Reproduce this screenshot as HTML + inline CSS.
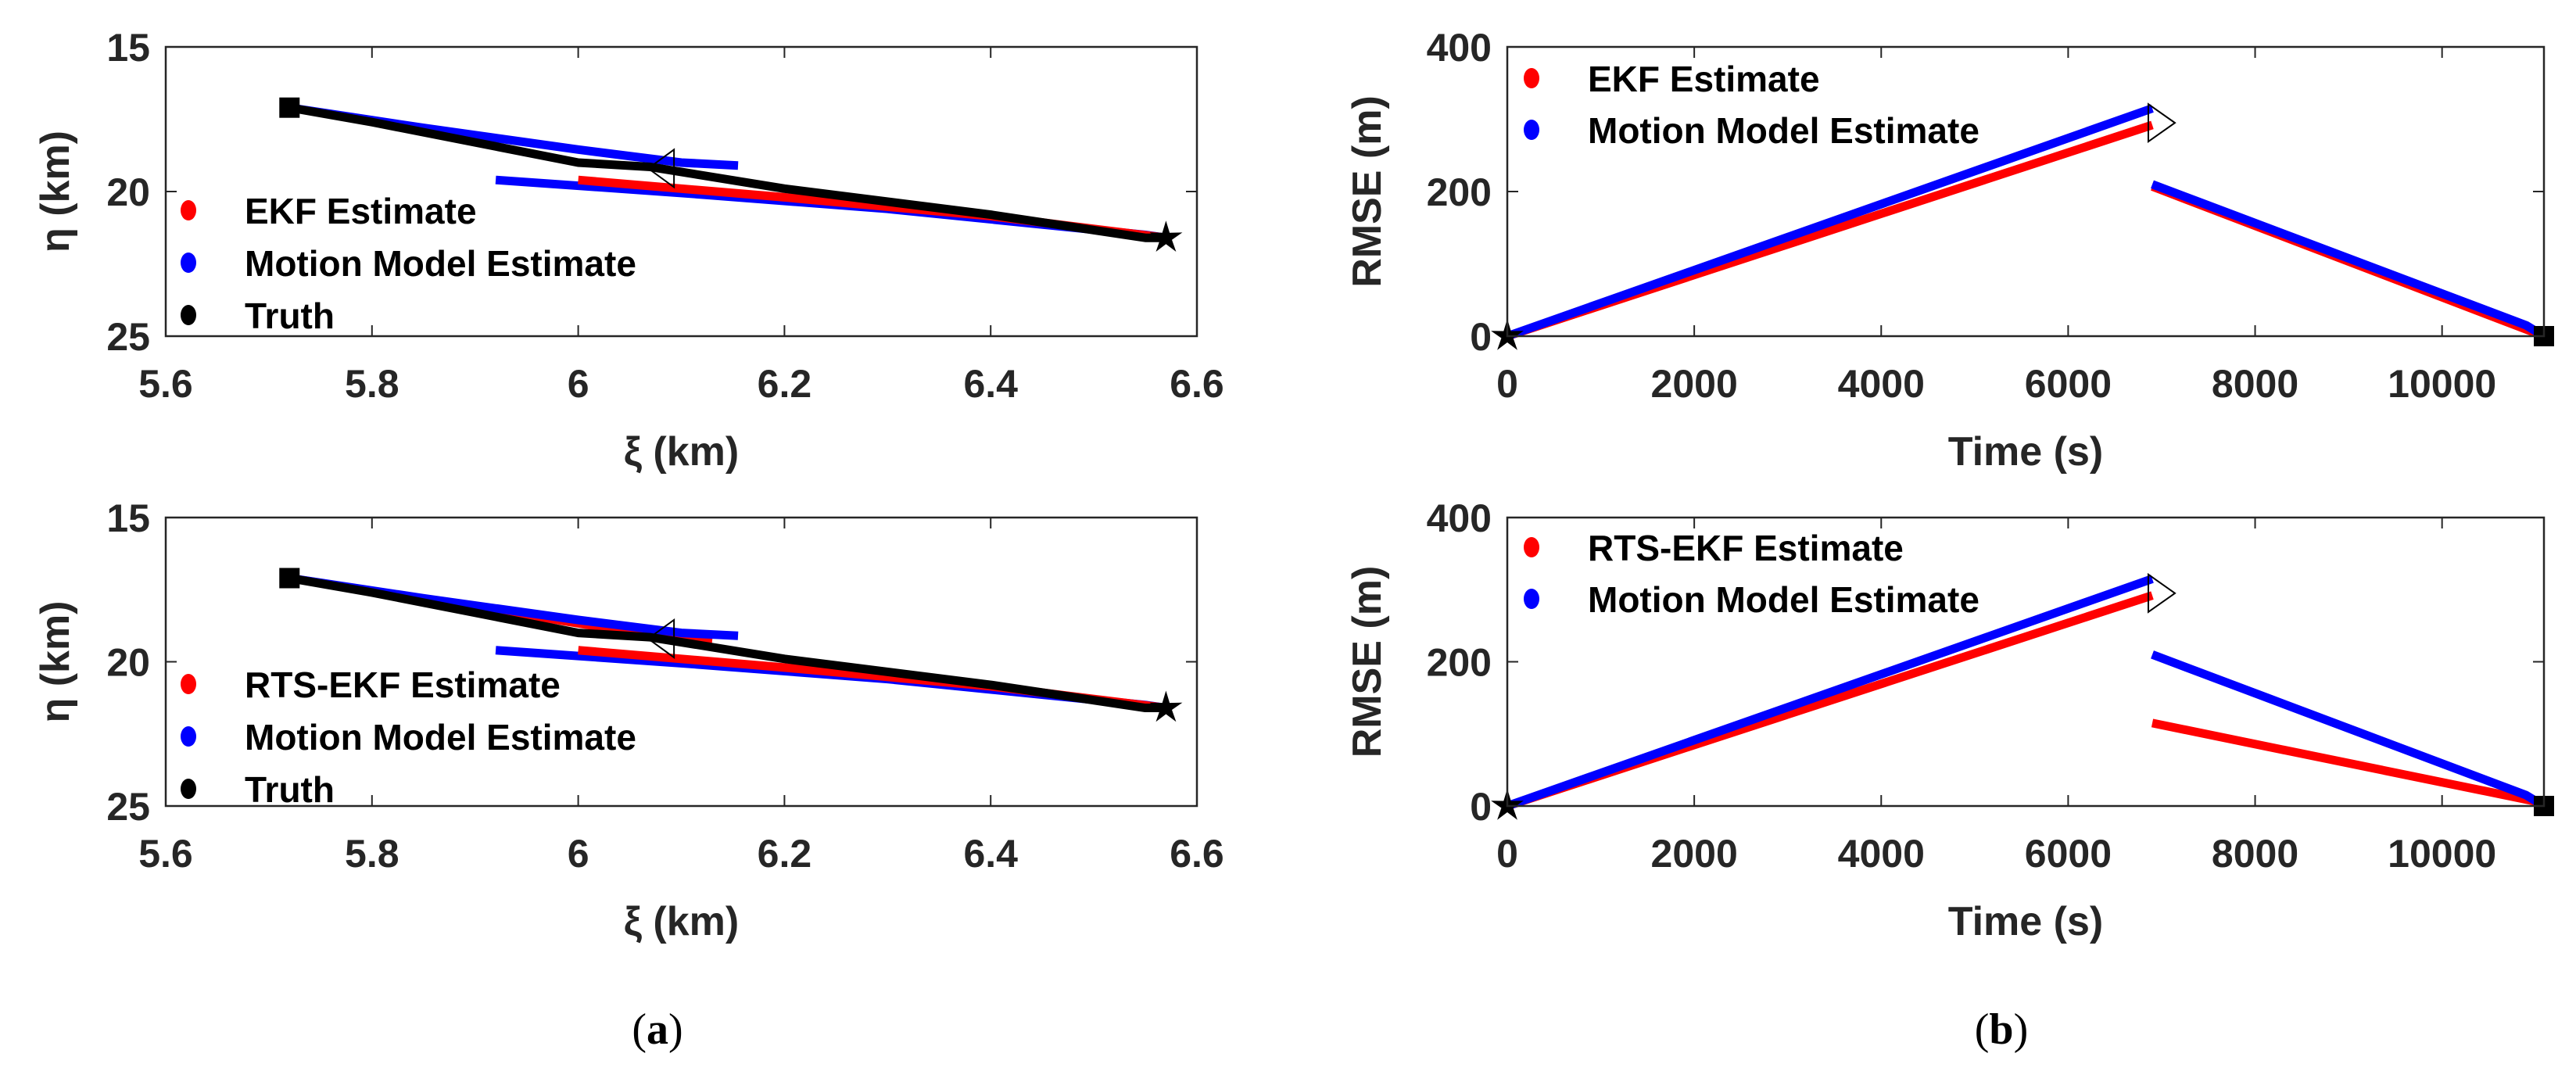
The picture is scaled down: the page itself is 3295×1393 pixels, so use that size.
<!DOCTYPE html>
<html><head><meta charset="utf-8"><style>
html,body{margin:0;padding:0;background:#fff;}
svg text{font-family:"Liberation Sans",Arial,sans-serif;font-weight:bold;fill:#262626;}
</style></head><body>
<svg id="fig" width="3295" height="1388" viewBox="0 0 3295 1388" xmlns="http://www.w3.org/2000/svg"></svg>
<script>
// ---- data: trajectory panels (a) ----
const xiTicks = [5.6, 5.8, 6.0, 6.2, 6.4, 6.6];
const xiTickLabels = ['5.6','5.8','6','6.2','6.4','6.6'];
const etaTicks = [15, 20, 25];
const etaTickLabels = ['15','20','25'];
const truthXi  = [5.72, 5.80, 5.90, 6.00, 6.07, 6.20, 6.40, 6.55, 6.57];
const truthEta = [17.1, 17.6, 18.3, 19.0, 19.15, 19.9, 20.8, 21.6, 21.6];
const mmUpperXi  = [5.72, 5.85, 6.00, 6.10, 6.155];
const mmUpperEta = [17.1, 17.8, 18.55, 19.0, 19.1];
const mmLowerXi  = [5.92, 6.10, 6.30, 6.55, 6.57];
const mmLowerEta = [19.6, 20.05, 20.6, 21.5, 21.6];
const ekfLowerXi  = [6.00, 6.20, 6.40, 6.57];
const ekfLowerEta = [19.6, 20.2, 20.85, 21.6];
const rtsUpperXi  = [5.72, 5.90, 6.05, 6.13];
const rtsUpperEta = [17.1, 18.1, 18.95, 19.25];
const startXi = 5.72, startEta = 17.1, endXi = 6.57, endEta = 21.6, arrowXi = 6.08, arrowEta = 19.2;
// ---- data: RMSE panels (b) ----
const tTicks = [0, 2000, 4000, 6000, 8000, 10000];
const tTickLabels = ['0','2000','4000','6000','8000','10000'];
const rTicks = [0, 200, 400];
const rTickLabels = ['0','200','400'];
const mmT1 = [0, 6900], mmR1 = [0, 315];
const mmT2 = [6900, 10900, 11090], mmR2 = [210, 15, 0];
const ekfT1 = [0, 6900], ekfR1 = [0, 292];
const ekfT2 = [6900, 11090], ekfR2 = [207, 0];
const rtsT2 = [6900, 11090], rtsR2 = [115, 4];

const NS = 'http://www.w3.org/2000/svg';
const svg = document.getElementById('fig');
function mk(tag, attrs, parent) {
  const e = document.createElementNS(NS, tag);
  for (const k in attrs) e.setAttribute(k, attrs[k]);
  (parent || svg).appendChild(e);
  return e;
}
function txt(s, x, y, size, anchor, parent) {
  const t = mk('text', {x: x, y: y, 'font-size': size, 'text-anchor': anchor || 'middle'}, parent);
  t.textContent = s;
  return t;
}

function panel(o) {
  const g = mk('g', {});
  
  
  const L = o.L, R = o.R, T = o.T, B = o.B;
  const sx = v => L + (v - o.x0) / (o.x1 - o.x0) * (R - L);
  const sy = o.yrev ? (v => T + (v - o.y0) / (o.y1 - o.y0) * (B - T))
                    : (v => B - (v - o.y0) / (o.y1 - o.y0) * (B - T));
  // ticks
  o.xt.forEach((v, i) => {
    const x = sx(v);
    const tk = mk('path', {d: `M${x},${B}v-14M${x},${T}v14`, stroke: '#262626', 'stroke-width': 2}, g);
    
    
    const lb = txt(o.xtl[i], x, B + 78, 50, 'middle', g);
    
    
  });
  o.yt.forEach((v, i) => {
    const y = sy(v);
    const tk = mk('path', {d: `M${L},${y}h14M${R},${y}h-14`, stroke: '#262626', 'stroke-width': 2}, g);
    
    
    const lb = txt(o.ytl[i], L - 20, y + 18, 50, 'end', g);
    
    
  });
  // series
  o.series.forEach(s => {
    const pts = s.x.map((v, i) => sx(v) + ',' + sy(s.y[i])).join(' ');
    const pl = mk('polyline', {points: pts, fill: 'none', stroke: s.c, 'stroke-width': 11, 'stroke-linejoin': 'round'}, g);
    
    
  });
  // markers
  o.markers.forEach(m => {
    const x = sx(m.x), y = sy(m.y);
    let e;
    if (m.t === 'square') e = mk('rect', {x: x - 13, y: y - 13, width: 26, height: 26, fill: '#000'}, g);
    else if (m.t === 'star') {
      let d = '';
      for (let k = 0; k < 10; k++) {
        const r = k % 2 ? 8 : 22, a = -Math.PI / 2 + k * Math.PI / 5;
        d += (k ? 'L' : 'M') + (x + r * Math.cos(a)).toFixed(1) + ',' + (y + r * Math.sin(a)).toFixed(1);
      }
      e = mk('path', {d: d + 'Z', fill: '#000'}, g);
    } else if (m.t === 'left') e = mk('path', {d: `M${x-16},${y}L${x+17},${y-24}L${x+17},${y+24}Z`, fill: 'none', stroke: '#000', 'stroke-width': 2}, g);
    else e = mk('path', {d: `M${x+17},${y}L${x-17},${y-24}L${x-17},${y+24}Z`, fill: 'none', stroke: '#000', 'stroke-width': 2}, g);
    
    
  });
  // box
  const bx = mk('rect', {x: L, y: T, width: R - L, height: B - T, fill: 'none', stroke: '#262626', 'stroke-width': 2.5}, g);
  
  
  // titles
  const xt = txt(o.xtitle, (L + R) / 2, B + 165, 52, 'middle', g);
  
  
  const cy = (T + B) / 2;
  const yt = txt(o.ytitle, 0, 0, 52, 'middle', g);
  yt.setAttribute('transform', `translate(${o.ytx},${cy}) rotate(-90)`);
  
  
  // legend
  o.legend.forEach((it, i) => {
    const y = o.legY + i * o.legDy;
    const lg = mk('g', {}, g);
    
    
    mk('ellipse', {cx: o.legX, cy: y, rx: 10, ry: 13, fill: it.c}, lg);
    const t = txt(it.s, o.legX + 72, y + 17, 46, 'start', lg);
    t.style.fill = '#000';
  });
}

const aCommon = {L: 212, R: 1531, x0: 5.6, x1: 6.6, y0: 15, y1: 25, yrev: true,
  xt: xiTicks, xtl: xiTickLabels, yt: etaTicks, ytl: etaTickLabels,
  xtitle: 'ξ (km)', ytitle: 'η (km)', ytx: 88, legX: 241};
const aMarkers = [{t: 'square', x: startXi, y: startEta, n: 'start-marker'},
  {t: 'star', x: endXi, y: endEta, n: 'end-marker'},
  {t: 'left', x: arrowXi, y: arrowEta, n: 'direction-arrow'}];
panel(Object.assign({}, aCommon, {name: 'panel-a-top', T: 60, B: 430, legY: 269, legDy: 67,
  series: [
    {x: mmUpperXi, y: mmUpperEta, c: '#0000ff', n: 'motion-model-upper'},
    {x: mmLowerXi, y: mmLowerEta, c: '#0000ff', n: 'motion-model-lower'},
    {x: ekfLowerXi, y: ekfLowerEta, c: '#ff0000', n: 'ekf-line'},
    {x: truthXi, y: truthEta, c: '#000', n: 'truth-line'}],
  markers: aMarkers,
  legend: [{s: 'EKF Estimate', c: '#ff0000'}, {s: 'Motion Model Estimate', c: '#0000ff'}, {s: 'Truth', c: '#000'}]}));
panel(Object.assign({}, aCommon, {name: 'panel-a-bottom', T: 662, B: 1031, legY: 875, legDy: 67,
  series: [
    {x: rtsUpperXi, y: rtsUpperEta, c: '#ff0000', n: 'rts-ekf-upper'},
    {x: mmUpperXi, y: mmUpperEta, c: '#0000ff', n: 'motion-model-upper'},
    {x: mmLowerXi, y: mmLowerEta, c: '#0000ff', n: 'motion-model-lower'},
    {x: ekfLowerXi, y: ekfLowerEta, c: '#ff0000', n: 'rts-ekf-lower'},
    {x: truthXi, y: truthEta, c: '#000', n: 'truth-line'}],
  markers: aMarkers,
  legend: [{s: 'RTS-EKF Estimate', c: '#ff0000'}, {s: 'Motion Model Estimate', c: '#0000ff'}, {s: 'Truth', c: '#000'}]}));

const bCommon = {L: 1928, R: 3254, x0: 0, x1: 11090, y0: 0, y1: 400, yrev: false,
  xt: tTicks, xtl: tTickLabels, yt: rTicks, ytl: rTickLabels,
  xtitle: 'Time (s)', ytitle: 'RMSE (m)', ytx: 1766, legX: 1959};
const bMarkers = [{t: 'star', x: 0, y: 0, n: 'start-marker'},
  {t: 'square', x: 11090, y: 0, n: 'end-marker'},
  {t: 'right', x: 7000, y: 295, n: 'direction-arrow'}];
panel(Object.assign({}, bCommon, {name: 'panel-b-top', T: 60, B: 430, legY: 100, legDy: 66,
  series: [
    {x: ekfT1, y: ekfR1, c: '#ff0000', n: 'ekf-rmse-1'},
    {x: ekfT2, y: ekfR2, c: '#ff0000', n: 'ekf-rmse-2'},
    {x: mmT1, y: mmR1, c: '#0000ff', n: 'motion-model-rmse-1'},
    {x: mmT2, y: mmR2, c: '#0000ff', n: 'motion-model-rmse-2'}],
  markers: bMarkers,
  legend: [{s: 'EKF Estimate', c: '#ff0000'}, {s: 'Motion Model Estimate', c: '#0000ff'}]}));
panel(Object.assign({}, bCommon, {name: 'panel-b-bottom', T: 662, B: 1031, legY: 700, legDy: 66,
  series: [
    {x: ekfT1, y: ekfR1, c: '#ff0000', n: 'rts-ekf-rmse-1'},
    {x: rtsT2, y: rtsR2, c: '#ff0000', n: 'rts-ekf-rmse-2'},
    {x: mmT1, y: mmR1, c: '#0000ff', n: 'motion-model-rmse-1'},
    {x: mmT2, y: mmR2, c: '#0000ff', n: 'motion-model-rmse-2'}],
  markers: bMarkers,
  legend: [{s: 'RTS-EKF Estimate', c: '#ff0000'}, {s: 'Motion Model Estimate', c: '#0000ff'}]}));

const ca = mk('text', {x: 841, y: 1335, 'font-size': 56, 'text-anchor': 'middle'});


ca.style.fontFamily = '"Liberation Serif",serif'; ca.style.fill = '#000'; ca.style.fontWeight = 'normal';
ca.innerHTML = '(<tspan font-weight="bold">a</tspan>)';
const cb = mk('text', {x: 2560, y: 1335, 'font-size': 56, 'text-anchor': 'middle'});


cb.style.fontFamily = '"Liberation Serif",serif'; cb.style.fill = '#000'; cb.style.fontWeight = 'normal';
cb.innerHTML = '(<tspan font-weight="bold">b</tspan>)';
</script>
</body></html>
